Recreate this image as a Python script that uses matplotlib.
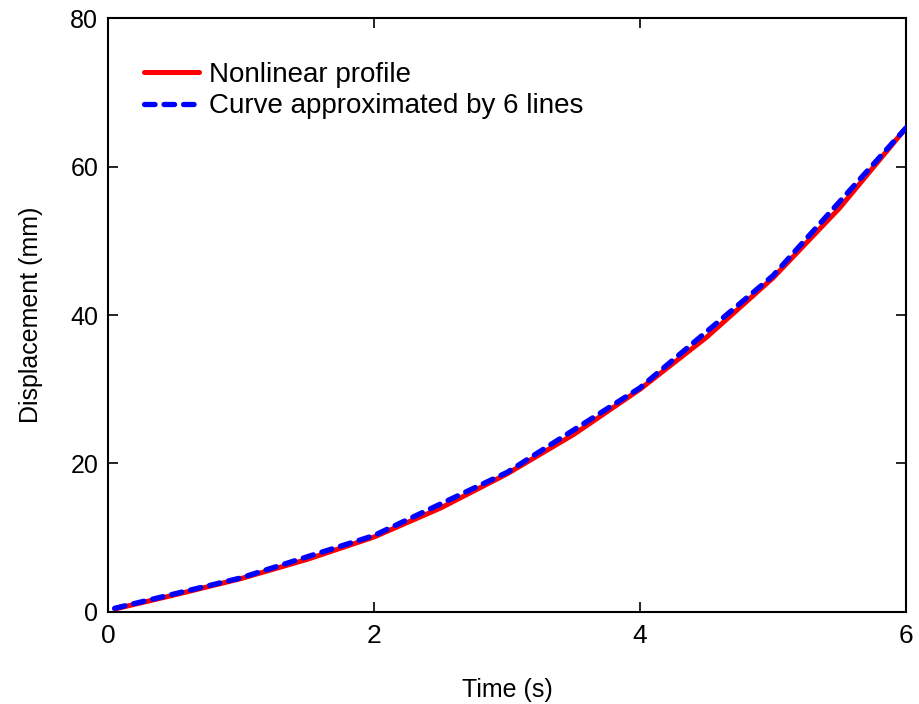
import matplotlib
matplotlib.use("Agg")
import matplotlib.pyplot as plt
from matplotlib import font_manager

# Data
time_profile = [0.05, 0.5, 1.0, 1.5, 2.0, 2.5, 3.0, 3.5, 4.0, 4.5, 5.0, 5.5, 6.0]
disp_profile = [0.4, 2.3, 4.5, 7.1, 10.1, 14.0, 18.6, 23.9, 30.0, 37.0, 45.0, 54.4, 65.2]

time_lines = [0.05, 1.0, 2.0, 3.0, 4.0, 5.0, 6.0]
disp_lines = [0.5, 4.6, 10.3, 18.8, 30.2, 45.3, 65.2]

x_ticks = [0, 2, 4, 6]
y_ticks = [0, 20, 40, 60, 80]

names = {f.name for f in font_manager.fontManager.ttflist}
base = "Liberation Sans" if "Liberation Sans" in names else "DejaVu Sans"
plt.rcParams['font.family'] = [base, 'DejaVu Sans']

fig = plt.figure(figsize=(9.2, 7.04), dpi=100)
ax = fig.add_axes([0.1174, 0.1307, 0.9848 - 0.1174, 0.9744 - 0.1307])

ax.plot(time_profile, disp_profile, color='#ff0000', lw=3.6, solid_capstyle='round',
        solid_joinstyle='round', label='Nonlinear profile', zorder=2)
ax.plot(time_lines, disp_lines, color='#0000ff', lw=3.8, linestyle=(0, (2.0, 1.7)),
        dash_capstyle='round', label='Curve approximated by 6 lines', zorder=3)

ax.set_xlim(0, 6)
ax.set_ylim(0, 80)
ax.set_xticks(x_ticks)
ax.set_yticks(y_ticks)
ax.set_xticklabels([str(v) for v in x_ticks], fontsize=19)
ax.set_yticklabels([str(v) for v in y_ticks], fontsize=18)
ax.tick_params(direction='in', length=7, width=1.2, top=True, right=True)
ax.tick_params(axis='y', pad=7)
ax.tick_params(axis='x', pad=9)
for s in ax.spines.values():
    s.set_linewidth(1.5)

ax.set_xlabel('Time (s)', fontsize=18, labelpad=21)
ax.set_ylabel('Displacement (mm)', fontsize=18, labelpad=20)

leg = ax.legend(loc='upper left', bbox_to_anchor=(0.031, 0.945), frameon=False,
                fontsize=20, handlelength=2.0, handletextpad=0.35, labelspacing=0.2,
                borderaxespad=0)

fig.savefig('out.png', dpi=100)
